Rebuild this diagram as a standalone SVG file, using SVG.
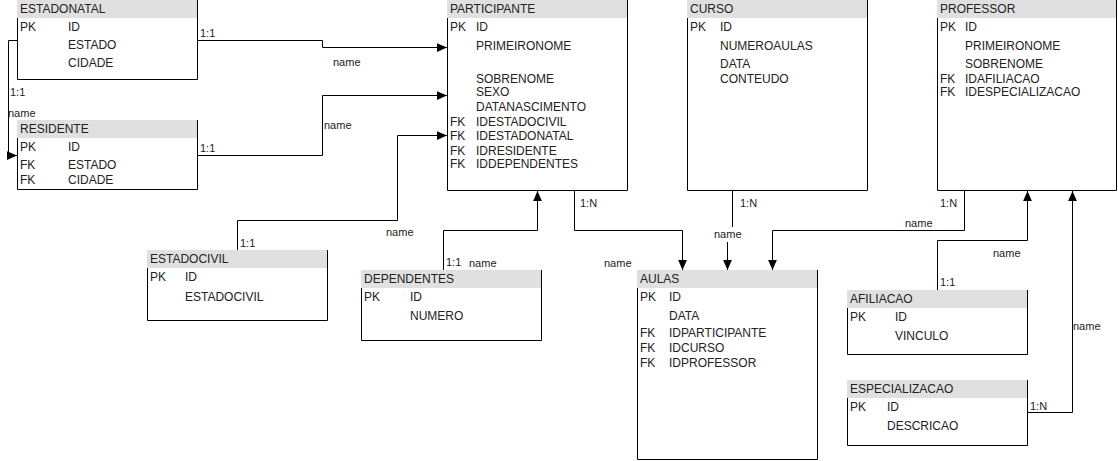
<svg xmlns="http://www.w3.org/2000/svg" width="1118" height="461" viewBox="0 0 1118 461">
<style>
text{font-family:"Liberation Sans",Arial,sans-serif;fill:#222;}
.t{font-size:12px;}
.l{font-size:11px;}
.hd{fill:#e0e0e0;stroke:none;}
.bd{fill:none;stroke:#000;stroke-width:1;}
.c{fill:none;stroke:#000;stroke-width:1;}
</style>
<defs>
<marker id="arr" markerUnits="userSpaceOnUse" markerWidth="10" markerHeight="10" viewBox="0 0 8 8" refX="8" refY="4" orient="auto">
<path d="M0,0.5 L8,4 L0,7.5 z" fill="#000"/>
</marker>
</defs>
<rect width="1118" height="461" fill="#fff"/>

<g id="connectors">
<path class="c" d="M197.5,40.5 H322.5 V47.5 H447" marker-end="url(#arr)"/>
<path class="c" d="M17,40.5 H8.5 V155.5 H17" marker-end="url(#arr)"/>
<path class="c" d="M197.5,155.5 H322.5 V95.5 H447" marker-end="url(#arr)"/>
<path class="c" d="M237.5,250 V220.5 H397.5 V135.5 H447" marker-end="url(#arr)"/>
<path class="c" d="M443.5,270 V230.5 H537.5 V191" marker-end="url(#arr)"/>
<path class="c" d="M574.5,190.5 V230.5 H682.5 V270" marker-end="url(#arr)"/>
<path class="c" d="M732.5,190.5 V234.5 H727.5 V270" marker-end="url(#arr)"/>
<path class="c" d="M964.5,190.5 V230.5 H772.5 V270" marker-end="url(#arr)"/>
<path class="c" d="M937.5,290 V240.5 H1027.5 V191" marker-end="url(#arr)"/>
<path class="c" d="M1027.5,412.5 H1072.5 V191" marker-end="url(#arr)"/>
<text class="l" x="200" y="37">1:1</text>
<text class="l" x="333" y="65.5">name</text>
<text class="l" x="10" y="96">1:1</text>
<text class="l" x="8" y="117">name</text>
<text class="l" x="200" y="152">1:1</text>
<text class="l" x="324" y="129">name</text>
<text class="l" x="240" y="247">1:1</text>
<text class="l" x="386" y="236">name</text>
<text class="l" x="446" y="266">1:1</text>
<text class="l" x="469" y="267">name</text>
<text class="l" x="580" y="207">1:N</text>
<text class="l" x="604" y="267">name</text>
<text class="l" x="740" y="207">1:N</text>
<rect x="713" y="227" width="30" height="15" fill="#fff"/>
<text class="l" x="714" y="238">name</text>
<text class="l" x="940" y="207">1:N</text>
<text class="l" x="905" y="227">name</text>
<text class="l" x="993" y="257">name</text>
<text class="l" x="940" y="286">1:1</text>
<text class="l" x="1073" y="330">name</text>
<text class="l" x="1030" y="410">1:N</text>
</g>

<g id="estadonatal">
<rect class="hd" x="17" y="0" width="181" height="18"/>
<path class="bd" d="M197.5,0 V79.5 H17.5 V18"/>
<text class="t" x="20" y="13">ESTADONATAL</text>
<text class="t" x="20" y="31">PK</text><text class="t" x="68" y="31">ID</text>
<text class="t" x="68" y="49">ESTADO</text>
<text class="t" x="68" y="67">CIDADE</text>
</g>

<g id="residente">
<rect class="hd" x="17" y="120" width="181" height="18"/>
<path class="bd" d="M197.5,120 V189.5 H17.5 V138"/>
<text class="t" x="20" y="133">RESIDENTE</text>
<text class="t" x="20" y="151">PK</text><text class="t" x="68" y="151">ID</text>
<text class="t" x="20" y="169">FK</text><text class="t" x="68" y="169">ESTADO</text>
<text class="t" x="20" y="184">FK</text><text class="t" x="68" y="184">CIDADE</text>
</g>

<g id="participante">
<rect class="hd" x="447" y="0" width="181" height="18"/>
<path class="bd" d="M627.5,0 V190.5 H447.5 V18"/>
<text class="t" x="450" y="13">PARTICIPANTE</text>
<text class="t" x="450" y="31">PK</text><text class="t" x="476" y="31">ID</text>
<text class="t" x="476" y="50">PRIMEIRONOME</text>
<text class="t" x="476" y="83">SOBRENOME</text>
<text class="t" x="476" y="96">SEXO</text>
<text class="t" x="476" y="111">DATANASCIMENTO</text>
<text class="t" x="450" y="126">FK</text><text class="t" x="476" y="126">IDESTADOCIVIL</text>
<text class="t" x="450" y="140">FK</text><text class="t" x="476" y="140">IDESTADONATAL</text>
<text class="t" x="450" y="155">FK</text><text class="t" x="476" y="155">IDRESIDENTE</text>
<text class="t" x="450" y="168">FK</text><text class="t" x="476" y="168">IDDEPENDENTES</text>
</g>

<g id="curso">
<rect class="hd" x="687" y="0" width="181" height="18"/>
<path class="bd" d="M867.5,0 V190.5 H687.5 V18"/>
<text class="t" x="690" y="13">CURSO</text>
<text class="t" x="690" y="31">PK</text><text class="t" x="720" y="31">ID</text>
<text class="t" x="720" y="50">NUMEROAULAS</text>
<text class="t" x="720" y="68">DATA</text>
<text class="t" x="720" y="83">CONTEUDO</text>
</g>

<g id="professor">
<rect class="hd" x="937" y="0" width="180" height="18"/>
<path class="bd" d="M1116.5,0 V190.5 H937.5 V18"/>
<text class="t" x="940" y="13">PROFESSOR</text>
<text class="t" x="940" y="31">PK</text><text class="t" x="965" y="31">ID</text>
<text class="t" x="965" y="50">PRIMEIRONOME</text>
<text class="t" x="965" y="68">SOBRENOME</text>
<text class="t" x="940" y="83">FK</text><text class="t" x="965" y="83">IDAFILIACAO</text>
<text class="t" x="940" y="96">FK</text><text class="t" x="965" y="96">IDESPECIALIZACAO</text>
</g>

<g id="estadocivil">
<rect class="hd" x="147" y="250" width="181" height="18"/>
<path class="bd" d="M327.5,250 V320.5 H147.5 V268"/>
<text class="t" x="150" y="263">ESTADOCIVIL</text>
<text class="t" x="150" y="281">PK</text><text class="t" x="185" y="281">ID</text>
<text class="t" x="185" y="301">ESTADOCIVIL</text>
</g>

<g id="dependentes">
<rect class="hd" x="361" y="270" width="181" height="18"/>
<path class="bd" d="M541.5,270 V340.5 H361.5 V288"/>
<text class="t" x="364" y="283">DEPENDENTES</text>
<text class="t" x="364" y="301">PK</text><text class="t" x="410" y="301">ID</text>
<text class="t" x="410" y="320">NUMERO</text>
</g>

<g id="aulas">
<rect class="hd" x="637" y="270" width="181" height="18"/>
<path class="bd" d="M817.5,270 V459.5 H637.5 V288"/>
<text class="t" x="640" y="283">AULAS</text>
<text class="t" x="640" y="301">PK</text><text class="t" x="669" y="301">ID</text>
<text class="t" x="669" y="320">DATA</text>
<text class="t" x="640" y="337">FK</text><text class="t" x="669" y="337">IDPARTICIPANTE</text>
<text class="t" x="640" y="352">FK</text><text class="t" x="669" y="352">IDCURSO</text>
<text class="t" x="640" y="367">FK</text><text class="t" x="669" y="367">IDPROFESSOR</text>
</g>

<g id="afiliacao">
<rect class="hd" x="847" y="290" width="181" height="18"/>
<path class="bd" d="M1027.5,290 V354.5 H847.5 V308"/>
<text class="t" x="850" y="303">AFILIACAO</text>
<text class="t" x="850" y="321">PK</text><text class="t" x="895" y="321">ID</text>
<text class="t" x="895" y="340">VINCULO</text>
</g>

<g id="especializacao">
<rect class="hd" x="847" y="380" width="181" height="18"/>
<path class="bd" d="M1027.5,380 V445.5 H847.5 V398"/>
<text class="t" x="850" y="393">ESPECIALIZACAO</text>
<text class="t" x="850" y="411">PK</text><text class="t" x="887" y="411">ID</text>
<text class="t" x="887" y="430">DESCRICAO</text>
</g>
</svg>
